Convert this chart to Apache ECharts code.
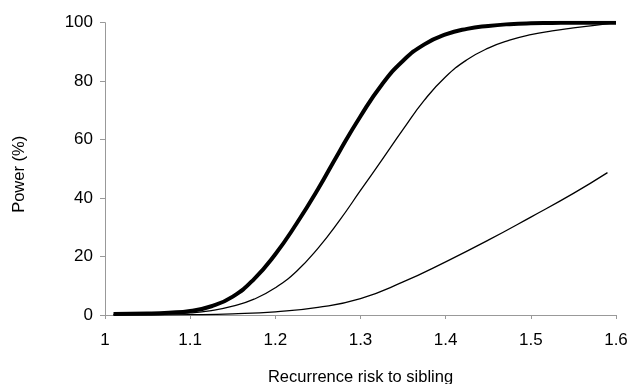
<!DOCTYPE html>
<html>
<head>
<meta charset="utf-8">
<script src="https://cdn.jsdelivr.net/npm/echarts@6/dist/echarts.min.js"></script>
<style>html,body{margin:0;padding:0;background:#fff;}#c{width:631px;height:384px;}</style>
</head>
<body>
<div id="c"></div>
<script>
const riskX = [1.01, 1.05, 1.075, 1.1, 1.125, 1.15, 1.175, 1.2, 1.225, 1.25, 1.275, 1.3, 1.325, 1.35, 1.375, 1.4, 1.425, 1.45, 1.475, 1.5, 1.525, 1.55, 1.575, 1.6];
const powerThick = [0.3, 0.5, 0.8, 1.4, 3, 6.3, 12.3, 20.8, 31.3, 43, 55.8, 68, 78.8, 87, 92.6, 96, 97.9, 98.9, 99.5, 99.8, 99.9, 100, 100, 100];
const powerMiddle = [0.2, 0.3, 0.45, 0.7, 1.5, 3, 5.4, 9.3, 15, 22.8, 32.2, 42.6, 53, 63.5, 73.5, 81.5, 87.3, 91.3, 94, 95.9, 97.2, 98.2, 99.1, 100];
const riskXLow = [1.01, 1.05, 1.1, 1.15, 1.2, 1.25, 1.3, 1.35, 1.4, 1.45, 1.5, 1.55, 1.59];
const powerLow = [0, 0, 0.1, 0.4, 1.1, 2.6, 5.6, 11.3, 18.2, 25.6, 33.5, 41.6, 48.7];
const xTicks = [1, 1.1, 1.2, 1.3, 1.4, 1.5, 1.6];
const yTicks = [0, 20, 40, 60, 80, 100];

const pair = (xs, ys) => xs.map((x, i) => [x, ys[i]]);
const font = 'Liberation Sans, Arial, sans-serif';
const chart = echarts.init(document.getElementById('c'), null, {renderer: 'canvas'});
chart.setOption({
  animation: false,
  backgroundColor: '#fff',
  grid: {left: 105, right: 15, top: 22.7, bottom: 69, outerBoundsMode: 'none', containLabel: false},
  xAxis: {
    type: 'value', min: 1, max: 1.6, interval: 0.1,
    name: 'Recurrence risk to sibling', nameLocation: 'middle', nameGap: 54,
    nameTextStyle: {fontFamily: font, fontSize: 16.5, color: '#000'},
    axisLine: {lineStyle: {color: '#999', width: 1}},
    axisTick: {show: true, length: 4, lineStyle: {color: '#999'}},
    splitLine: {show: false},
    axisLabel: {fontFamily: font, fontSize: 17, color: '#000', margin: 17,
      formatter: v => { const t = xTicks.find(a => Math.abs(a - v) < 1e-6); return t === undefined ? '' : String(t); }}
  },
  yAxis: {
    type: 'value', min: 0, max: 100, interval: 20,
    name: 'Power (%)', nameLocation: 'middle', nameGap: 77, nameRotate: 90,
    nameTextStyle: {fontFamily: font, fontSize: 16.5, color: '#000', padding: [0, 11, 0, 0]},
    axisLine: {show: true, lineStyle: {color: '#999', width: 1}},
    axisTick: {show: true, length: 5, lineStyle: {color: '#999'}},
    splitLine: {show: false},
    axisLabel: {fontFamily: font, fontSize: 17, color: '#000', margin: 12,
      formatter: v => { const t = yTicks.find(a => Math.abs(a - v) < 1e-6); return t === undefined ? '' : String(t); }}
  },
  series: [
    {type: 'line', data: pair(riskXLow, powerLow), smooth: 0.5, showSymbol: false, lineStyle: {color: '#000', width: 1.3}},
    {type: 'line', data: pair(riskX, powerMiddle), smooth: 0.5, showSymbol: false, lineStyle: {color: '#000', width: 1.3}},
    {type: 'line', data: pair(riskX, powerThick), smooth: 0.5, showSymbol: false, lineStyle: {color: '#000', width: 4}}
  ]
});
</script>
</body>
</html>
